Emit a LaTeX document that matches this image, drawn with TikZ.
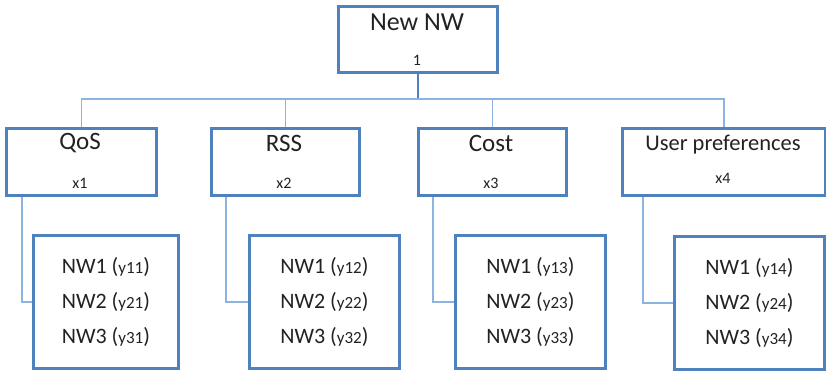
\documentclass[tikz,border=0pt]{standalone}
\usepackage{fontspec}
\setmainfont{Carlito}
\definecolor{boxblue}{HTML}{4F81BD}
\definecolor{linkblue}{HTML}{8DB3E2}
\definecolor{ink}{HTML}{222222}
\newcommand{\smallidx}[1]{{\fontsize{17bp}{17bp}\selectfont #1}}
\begin{document}
\begin{tikzpicture}[x=1bp,y=-1bp,
  box/.style={draw=boxblue, line width=2.8bp, fill=white, inner sep=0pt,
              anchor=north west, minimum width=#1},
  parentbox/.style={box=#1, minimum height=67bp},
  childbox/.style={box=#1, minimum height=133bp, text=ink, align=center,
              font=\fontsize{22bp}{35bp}\selectfont},
  title/.style={text=ink, inner sep=0pt, font=\fontsize{25bp}{30bp}\selectfont},
  weight/.style={text=ink, inner sep=0pt, font=\fontsize{16bp}{18bp}\selectfont},
  link/.style={draw=linkblue, line width=1.7bp},
  mainlink/.style={draw=boxblue, line width=2.2bp}]
\useasboundingbox (0,0) rectangle (826,370);

% parent boxes
\node[box=159bp, minimum height=66bp] (top) at (337,5) {};
\node[parentbox=150bp] (qos)   at (5,127)   {};
\node[parentbox=148bp] (rss)   at (210,127) {};
\node[parentbox=148bp] (cost)  at (417,127) {};
\node[parentbox=203bp] (upref) at (621,127) {};

% tree connectors
\coordinate (bar) at (top.south |- 0,99);
\draw[mainlink] (top.south) -- (bar);
\draw[link] (qos.north) |- (bar) -| (upref.north);
\draw[link] (rss.north) -- (rss.north |- bar);
\draw[link] (cost.north) -- (cost.north |- bar);

% child boxes
\node[childbox=145bp] (c1) at (32,234)
  {NW1 (\smallidx{y11})\\NW2 (\smallidx{y21})\\NW3 (\smallidx{y31})};
\node[childbox=150bp] (c2) at (248,234)
  {NW1 (\smallidx{y12})\\NW2 (\smallidx{y22})\\NW3 (\smallidx{y32})};
\node[childbox=150bp] (c3) at (454,234)
  {NW1 (\smallidx{y13})\\NW2 (\smallidx{y23})\\NW3 (\smallidx{y33})};
\node[childbox=150bp] (c4) at (673,235)
  {NW1 (\smallidx{y14})\\NW2 (\smallidx{y24})\\NW3 (\smallidx{y34})};

\draw[link] ([xshift=17bp]qos.south west)   |- (c1.west);
\draw[link] ([xshift=16bp]rss.south west)   |- (c2.west);
\draw[link] ([xshift=16bp]cost.south west)  |- (c3.west);
\draw[link] ([xshift=22bp]upref.south west) |- (c4.west);

% labels
\node[title, font=\fontsize{26bp}{30bp}\selectfont] (tlab) at (417,22) {New NW};
\node[weight] (tw) at (417,60) {1};
\node[title] (qlab) at (80,143) {QoS};
\node[weight] (qw) at (80,183) {x1};
\node[title] (rlab) at (284,143) {RSS};
\node[weight] (rw) at (284,183) {x2};
\node[title] (clab) at (491,143) {Cost};
\node[weight] (cw) at (491,183) {x3};
\node[title, font=\fontsize{22.5bp}{26bp}\selectfont] (ulab) at (723,145) {User preferences};
\node[weight] (uw) at (723,178) {x4};
\end{tikzpicture}
\end{document}
